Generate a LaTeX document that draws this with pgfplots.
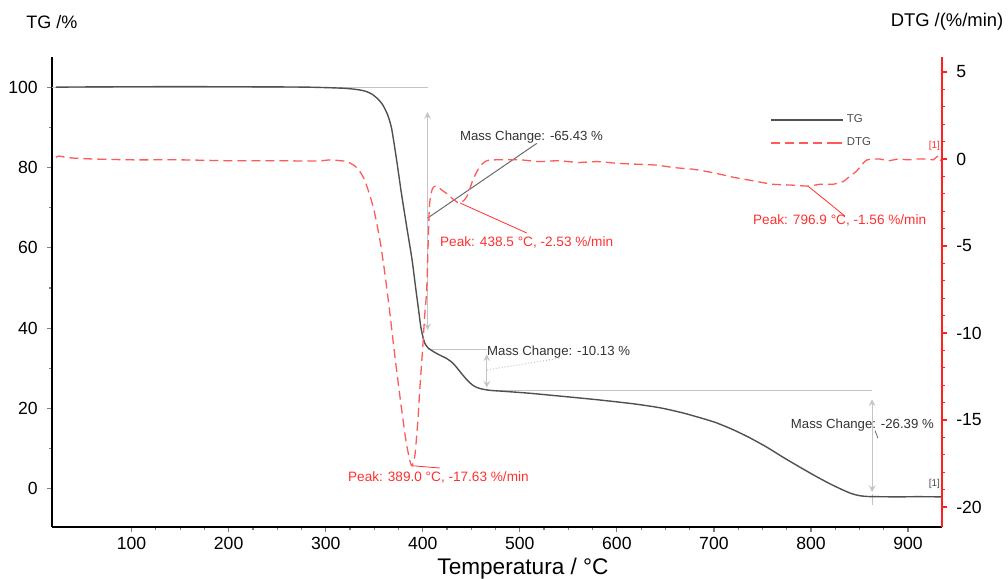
\documentclass[border=0pt]{standalone}
\usepackage{pgfplots}
\pgfplotsset{compat=1.18}
\usepackage{fontspec}
\setmainfont{Liberation Sans}
\definecolor{tgcol}{HTML}{505050}
\definecolor{dtgcol}{HTML}{FF5A5A}
\definecolor{axred}{HTML}{FF2020}
\definecolor{antred}{HTML}{FF3030}
\definecolor{lgray}{HTML}{C4C4C4}
\definecolor{mgray}{HTML}{6A6A6A}
\begin{document}
\begin{tikzpicture}
\useasboundingbox (-26pt,-26pt) rectangle (478pt,263.5pt);
\pgfplotsset{
  every axis/.append style={
    scale only axis, width=445pt, height=235pt,
    xmin=18, xmax=935,
    tick align=outside,
    major tick length=2.6pt, minor tick length=1.6pt,
    tick style={line width=0.6pt},
    /pgf/number format/assume math mode=true,
    tick label style={font=\fontsize{8.8}{10}\selectfont},
    axis line style={-, line width=0.8pt},
  }
}
% TG axis
\begin{axis}[
  axis x line*=bottom, axis y line*=left,
  ymin=-9.5, ymax=107.5,
  xtick={100,200,...,900}, minor x tick num=3,
  ytick={0,20,...,100}, minor y tick num=1,
  xticklabel style={yshift=-1.5pt, inner sep=1pt},
  yticklabel style={xshift=-1pt},
]
% annotation guide lines
\draw[lgray, line width=0.5pt] (axis cs:18,100) -- (axis cs:405,100);
\draw[lgray, line width=0.5pt, <->, >=stealth] (axis cs:405,93.8) -- (axis cs:405,39.5);
\draw[mgray, line width=0.5pt] (axis cs:405,67.4) -- (axis cs:517.5,86);
\draw[lgray, line width=0.5pt] (axis cs:405,34.8) -- (axis cs:466,34.8);
\draw[lgray, line width=0.5pt, <->, >=stealth] (axis cs:466,33.5) -- (axis cs:466,25.2);
\draw[lgray, line width=0.5pt, densely dotted] (axis cs:466,29.6) -- (axis cs:543,32.6);
\draw[lgray, line width=0.5pt] (axis cs:466,24.5) -- (axis cs:863,24.5);
\draw[lgray, line width=0.5pt, <->, >=stealth] (axis cs:863,22.3) -- (axis cs:863,-0.8);
\draw[lgray, line width=0.5pt] (axis cs:863,-1.2) -- (axis cs:863,-4);
\draw[mgray, line width=0.4pt] (axis cs:866,14.5) -- (axis cs:869,12.6);
\addplot[tgcol, line width=0.7pt, smooth, tension=0.4] coordinates {
(22,100.0)(100,100.1)(200,100.1)(280,100.0)(320,99.7)(335,99.3)(342,98.9)(348,98.2)(354,97.0)(359,95.5)(364,93.0)(368,89.6)(373,82.0)(378,73.6)(383.5,65.2)(389,57.0)(393,49.5)(396,44.0)(398,40.3)(400,38.0)(402,36.3)(405,35.2)(410,34.3)(417.5,33.3)(425,32.4)(431,31.3)(436,29.9)(441,28.4)(446,27.0)(451.5,25.8)(456,25.2)(462,24.8)(470,24.5)(482,24.3)(510,23.8)(545,23.0)(579,22.2)(616,21.2)(644,20.2)(668,18.9)(690,17.4)(703,16.4)(720,14.7)(737,12.7)(755,10.3)(771,7.9)(790,5.2)(806,3.0)(820,1.2)(833,-0.3)(842,-1.2)(850,-1.7)(858,-1.9)(868,-1.95)(890,-2.0)(910,-1.95)(935,-2.0)
};
\node[anchor=west, inner sep=0pt, font=\fontsize{6.6}{7}\selectfont, text=black!80] at (axis cs:438,87.6) {Mass Change: -65.43 \%};
\node[anchor=west, inner sep=0pt, font=\fontsize{6.6}{7}\selectfont, text=black!80] at (axis cs:466,34.1) {Mass Change: -10.13 \%};
\node[anchor=west, inner sep=0pt, font=\fontsize{6.6}{7}\selectfont, text=black!80] at (axis cs:779,15.9) {Mass Change: -26.39 \%};
\node[anchor=west, inner sep=0pt, font=\fontsize{5}{6}\selectfont, text=black!70] at (axis cs:921,1.2) {[1]};
\end{axis}
% DTG axis
\begin{axis}[
  axis x line=none, axis y line*=right,
  ymin=-21.15, ymax=5.86,
  ytick={-20,-15,-10,-5,0,5}, yticklabels={-20,-15,-10,-5,0,5},
  minor y tick num=4,
  y axis line style={axred},
  ytick style={axred},
  minor y tick style={axred},
  yticklabel style={xshift=1pt},
  legend cell align=left,
  legend style={draw=none, fill=none, at={(0.807,0.885)}, anchor=north west,
    font=\fontsize{5.7}{6}\selectfont, text=black!70, inner sep=0pt,
    row sep=3pt, nodes={inner sep=1.5pt}},
  legend image code/.code={\draw[#1] (0pt,0pt) -- (31pt,0pt); \path (31pt,0pt) -- (36pt,0pt);},
]
\addlegendimage{tgcol, line width=0.6pt}
\addlegendentry{TG}
\draw[antred, line width=0.4pt] (axis cs:438.5,-2.53) -- (axis cs:507,-4.25);
\draw[antred, line width=0.4pt] (axis cs:389,-17.63) -- (axis cs:417.5,-17.76);
\draw[antred, line width=0.4pt] (axis cs:796.9,-1.56) -- (axis cs:835,-3.28);
\addplot[dtgcol, line width=0.65pt, dash pattern=on 4.5pt off 2.5pt, smooth, tension=0.4] coordinates {
(22,0.1)(25,0.17)(30,0.12)(40,0.05)(60,0.0)(100,-0.05)(150,-0.05)(200,-0.1)(250,-0.1)(290,-0.12)(305,-0.05)(315,-0.1)(322,-0.15)(330,-0.4)(335,-0.7)(340,-1.2)(345,-2.0)(350,-3.0)(356,-4.7)(361,-6.6)(366,-8.8)(371,-11.2)(378,-14.3)(383,-16.3)(387,-17.4)(389,-17.63)(392,-17.0)(395,-15.0)(397,-13.2)(400,-10.8)(402,-9.0)(404,-7.6)(405.5,-5.0)(407,-2.6)(410,-1.7)(414,-1.55)(420,-1.8)(425,-2.0)(430,-2.25)(436,-2.5)(438.5,-2.53)(442,-2.4)(445,-2.2)(448,-1.8)(451,-1.3)(456,-0.7)(461,-0.3)(466,-0.1)(475,-0.05)(500,-0.05)(520,-0.15)(540,-0.1)(560,-0.2)(580,-0.15)(600,-0.25)(620,-0.3)(640,-0.35)(660,-0.5)(680,-0.6)(700,-0.8)(720,-1.05)(740,-1.25)(760,-1.45)(780,-1.5)(796.9,-1.56)(810,-1.45)(823,-1.45)(833,-1.3)(840,-1.0)(847,-0.7)(852,-0.35)(858,-0.05)(870,0.0)(880,-0.1)(890,0.0)(900,-0.05)(910,0.0)(920,0.0)(926,-0.05)(930,0.15)(932,0.1)(932.5,-0.1)(934,-0.05)
};
\addlegendentry{DTG}
\node[anchor=west, inner sep=0pt, font=\fontsize{6.8}{7}\selectfont, text=antred] at (axis cs:417.5,-4.77) {Peak: 438.5 °C, -2.53 \%/min};
\node[anchor=west, inner sep=0pt, font=\fontsize{6.8}{7}\selectfont, text=antred] at (axis cs:322.7,-18.3) {Peak: 389.0 °C, -17.63 \%/min};
\node[anchor=west, inner sep=0pt, font=\fontsize{6.8}{7}\selectfont, text=antred] at (axis cs:740,-3.56) {Peak: 796.9 °C, -1.56 \%/min};
\node[anchor=west, inner sep=0pt, font=\fontsize{5}{6}\selectfont, text=antred] at (axis cs:921,0.75) {[1]};
\end{axis}
\node[font=\fontsize{9}{10}\selectfont] at (0pt,252.5pt) {TG /\%};
\node[font=\fontsize{9.2}{10}\selectfont] at (447.5pt,252.5pt) {DTG /(\%/min)};
\node[font=\fontsize{11.3}{12}\selectfont, inner sep=0pt, anchor=base] at (235.5pt,-23.6pt) {Temperatura / °C};
\end{tikzpicture}
\end{document}
